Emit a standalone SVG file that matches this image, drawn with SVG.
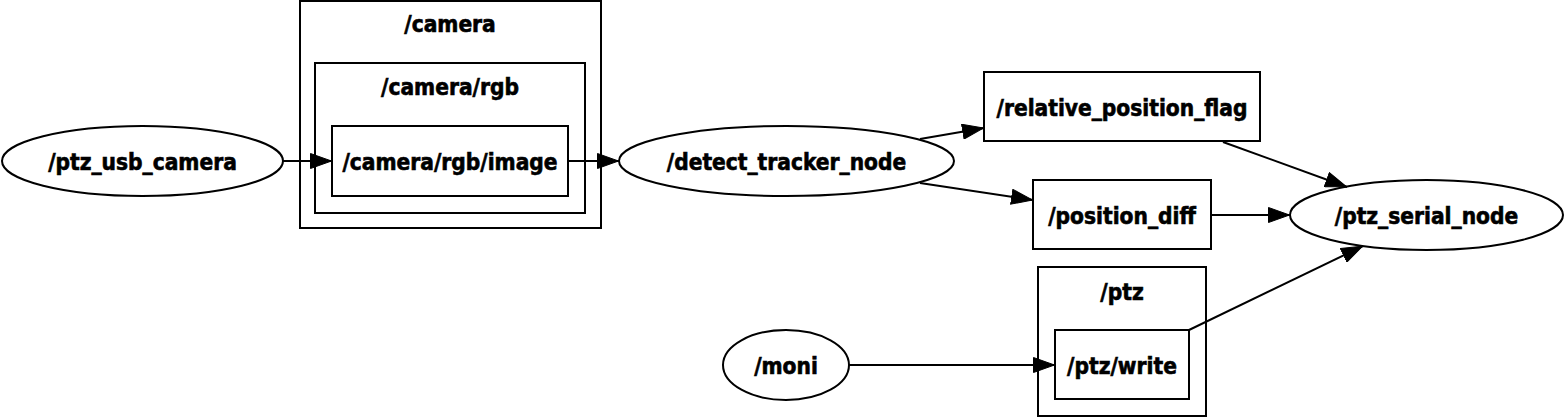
<svg xmlns="http://www.w3.org/2000/svg" width="1565" height="418" viewBox="0 0 1565 418">
<defs>
<marker id="ah" viewBox="0 0 22 16" refX="22" refY="8" markerWidth="22" markerHeight="16" markerUnits="userSpaceOnUse" orient="auto">
<path d="M0.5,0.5 L21.5,8 L0.5,15.5 Z" fill="#000" stroke="#000" stroke-width="1"/>
</marker>
</defs>
<style>
.s{fill:none;stroke:#000;stroke-width:2}
.n{fill:#fff;stroke:#000;stroke-width:2}
.e{fill:none;stroke:#000;stroke-width:2;marker-end:url(#ah)}
text{font-family:"DejaVu Sans Condensed","DejaVu Sans",sans-serif;font-stretch:condensed;font-weight:bold;font-size:22.5px;text-anchor:middle;fill:#000;stroke:#000;stroke-width:0.6}
</style>
<rect width="1565" height="418" fill="#fff"/>
<g id="cluster_camera">
<rect class="s" x="300" y="1" width="301" height="227"/>
<text x="450" y="32">/camera</text>
</g>
<g id="cluster_camera_rgb">
<rect class="s" x="315" y="63" width="270" height="150"/>
<text x="450" y="95">/camera/rgb</text>
</g>
<g id="cluster_ptz">
<rect class="s" x="1038" y="267" width="168" height="149"/>
<text x="1122" y="300">/ptz</text>
</g>
<g id="ptz_usb_camera">
<ellipse class="n" cx="142.5" cy="161" rx="140.5" ry="35"/>
<text x="142.5" y="169.5">/ptz_usb_camera</text>
</g>
<g id="camera_rgb_image">
<rect class="n" x="332" y="126" width="236" height="70"/>
<text x="450" y="169.5">/camera/rgb/image</text>
</g>
<g id="detect_tracker_node">
<ellipse class="n" cx="786.5" cy="161" rx="167.5" ry="35"/>
<text x="786.5" y="169.5">/detect_tracker_node</text>
</g>
<g id="relative_position_flag">
<rect class="n" x="984" y="72" width="276" height="69"/>
<text x="1122" y="115.5">/relative_position_flag</text>
</g>
<g id="position_diff">
<rect class="n" x="1033" y="180" width="178" height="69"/>
<text x="1122" y="223.5">/position_diff</text>
</g>
<g id="ptz_serial_node">
<ellipse class="n" cx="1426.5" cy="215" rx="136.5" ry="35"/>
<text x="1426.5" y="223.5">/ptz_serial_node</text>
</g>
<g id="moni">
<ellipse class="n" cx="786" cy="365" rx="63" ry="35"/>
<text x="786" y="373.5">/moni</text>
</g>
<g id="ptz_write">
<rect class="n" x="1055" y="330" width="134" height="69"/>
<text x="1122" y="373.5">/ptz/write</text>
</g>
<g id="connectors">
<line class="e" x1="283" y1="161" x2="332" y2="161"/>
<line class="e" x1="568" y1="161" x2="619" y2="161"/>
<line class="e" x1="920" y1="139" x2="984" y2="128"/>
<line class="e" x1="920" y1="183" x2="1033" y2="200"/>
<line class="e" x1="1223" y1="142" x2="1347" y2="187"/>
<line class="e" x1="1211" y1="215" x2="1290" y2="215"/>
<line class="e" x1="849" y1="365" x2="1055" y2="365"/>
<line class="e" x1="1189" y1="330" x2="1363" y2="246"/>
</g>
</svg>
